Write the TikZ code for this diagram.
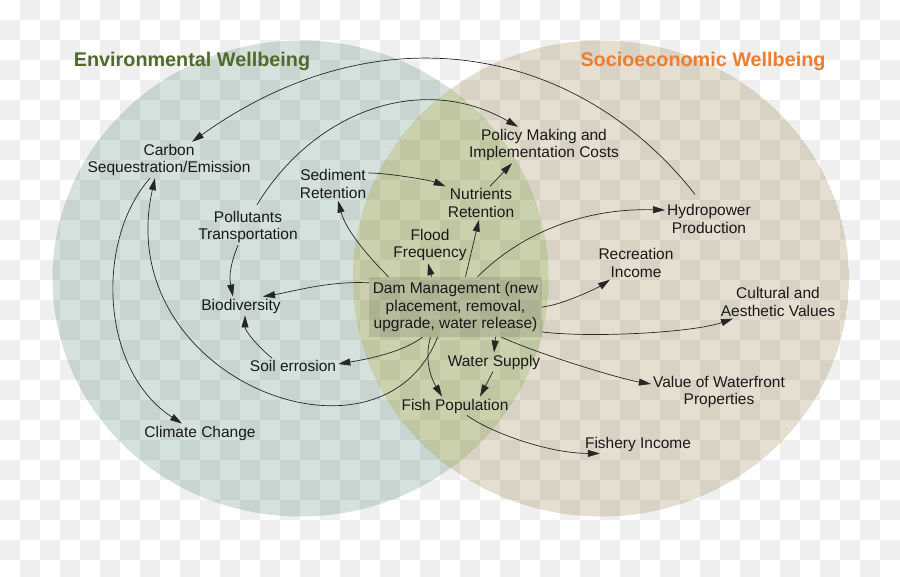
\documentclass[tikz,border=0pt]{standalone}
\usepackage{fontspec}
\setmainfont{Liberation Sans}
\usepackage{tikz}
\usetikzlibrary{arrows.meta}
\definecolor{checkgray}{HTML}{EFEFEF}
\definecolor{envfill}{RGB}{83,135,115}
\definecolor{socfill}{RGB}{147,127,67}
\definecolor{bothfill}{RGB}{106,124,21}
\definecolor{envgreen}{HTML}{4F6A2B}
\definecolor{socorange}{HTML}{ED7D31}
\definecolor{linkgray}{HTML}{262626}
\tikzset{
  venntext/.style={font=\fontsize{15.5}{17.5}\selectfont, align=center, inner sep=2pt, text=black!90},
  venntitle/.style={font=\fontsize{19.8}{22}\selectfont\bfseries, inner sep=0pt},
  vennarrow/.style={-{Triangle[length=12pt,width=7pt]}, line width=0.7pt, draw=linkgray},
  damstyle/.style={venntext, fill=black, fill opacity=0.1, text opacity=1, minimum width=173pt, minimum height=60pt}
}

\begin{document}
\begin{tikzpicture}[x=1pt, y=1pt]
  \useasboundingbox (0,0) rectangle (900,-577);
  \clip (0,0) rectangle (900,-577);

  % checkered backdrop
  \foreach \i in {0,...,44} {
    \foreach \j in {0,...,28} {
      \pgfmathtruncatemacro\odd{mod(\i+\j,2)}
      \ifnum\odd=1 \fill[checkgray] (20*\i,-20*\j) rectangle ++(20,-20); \fi
    }
  }

  % the two circles
  \coordinate (envc) at (300.5,-278.5);
  \coordinate (socc) at (601,-278.5);
  \begin{scope}
    \clip (envc) ellipse [x radius=248, y radius=238];
    \fill[envfill, fill opacity=0.25, even odd rule] (envc) ellipse [x radius=248, y radius=238] (socc) ellipse [x radius=248, y radius=238];
    \fill[bothfill, fill opacity=0.35] (socc) ellipse [x radius=248, y radius=238];
  \end{scope}
  \begin{scope}
    \clip (socc) ellipse [x radius=248, y radius=238];
    \fill[socfill, fill opacity=0.25, even odd rule] (envc) ellipse [x radius=248, y radius=238] (socc) ellipse [x radius=248, y radius=238];
  \end{scope}

  \node[venntitle, text=envgreen] (envtitle) at (192,-61) {Environmental Wellbeing};
  \node[venntitle, text=socorange] (soctitle) at (703,-61) {Socioeconomic Wellbeing};

  % factors
  \node[damstyle] (dam) at (455.5,-307) {Dam Management (new\\placement, removal,\\upgrade, water release)};
  \node[venntext] (carbon) at (169,-160) {Carbon\\Sequestration/Emission};
  \node[venntext] (policy) at (544,-145) {Policy Making and\\Implementation Costs};
  \node[venntext] (sediment) at (333,-184) {Sediment\\Retention};
  \node[venntext] (nutrients) at (481,-203) {Nutrients\\Retention};
  \node[venntext] (flood) at (430,-245) {Flood\\Frequency};
  \node[venntext] (pollutants) at (248,-227) {Pollutants\\Transportation};
  \node[venntext] (hydro) at (709,-219) {Hydropower\\Production};
  \node[venntext] (recreation) at (636,-263) {Recreation\\Income};
  \node[venntext] (biodiv) at (241,-306) {Biodiversity};
  \node[venntext] (cultural) at (778,-302) {Cultural and\\Aesthetic Values};
  \node[venntext] (soil) at (293,-366) {Soil errosion};
  \node[venntext] (water) at (494,-362) {Water Supply};
  \node[venntext] (waterfront) at (719,-392) {Value of Waterfront\\Properties};
  \node[venntext] (fish) at (455,-406) {Fish Population};
  \node[venntext] (fishery) at (638,-444) {Fishery Income};
  \node[venntext] (climate) at (200,-433) {Climate Change};

  % links
  \draw[vennarrow] ([xshift=-14pt,yshift=8pt]hydro.north) .. controls +(-118,150) and +(186,133) .. ([xshift=23pt]carbon.north);
  \draw[vennarrow] ([xshift=9pt,yshift=4pt]pollutants.north) .. controls +(57,94) and +(-96,55) .. ([xshift=-26pt]policy.north);
  \draw[vennarrow] ([xshift=-10pt]pollutants.south) .. controls +(-8,-20) and +(-4,20) .. ([xshift=-8pt]biodiv.north);
  \draw[vennarrow] ([yshift=-6pt]dam.north west) .. controls +(-40,2) and +(30,5) .. ([xshift=22pt]biodiv.north);
  \draw[vennarrow] ([xshift=-21pt]soil.north) .. controls +(-15,12) and +(0,-15) .. ([xshift=4pt]biodiv.south);
  \draw[vennarrow] ([xshift=-33pt]dam.south) .. controls +(-20,-15) and +(30,5) .. ([yshift=2pt]soil.east);
  \draw[vennarrow] ([xshift=-18pt]dam.south) .. controls +(-57,-146) and +(-45,-200) .. ([xshift=-14pt]carbon.south);
  \draw[vennarrow] ([xshift=-19pt]carbon.south) .. controls +(-55,-62) and +(-82,53) .. ([xshift=-18pt]climate.north);
  \draw[vennarrow] ([xshift=-67pt]dam.north) .. controls +(-20,20) and +(8,-30) .. ([xshift=5pt]sediment.south);
  \draw[vennarrow] ([yshift=11pt]sediment.east) .. controls +(20,0) and +(-15,6) .. (nutrients.north west);
  \draw[vennarrow] ([xshift=-24pt]dam.north) -- ([xshift=-2pt]flood.south);
  \draw[vennarrow] ([xshift=10pt]dam.north) -- ([xshift=-2pt]nutrients.south);
  \draw[vennarrow] ([xshift=9pt]nutrients.north) -- ([xshift=-32pt]policy.south);
  \draw[vennarrow] ([xshift=22pt]dam.north) .. controls +(42,42) and +(-84,2) .. ([yshift=9pt]hydro.west);
  \draw[vennarrow] (dam.east) .. controls +(20,2) and +(-12,-8) .. ([xshift=-26pt]recreation.south);
  \draw[vennarrow] ([yshift=-25pt]dam.east) .. controls +(50,-6) and +(-40,-14) .. ([xshift=-45pt]cultural.south);
  \draw[vennarrow] ([xshift=46pt]dam.south) .. controls +(40,-18) and +(-30,5) .. ([yshift=8pt]waterfront.west);
  \draw[vennarrow] ([xshift=40pt]dam.south) -- (water.north);
  \draw[vennarrow] ([xshift=-1pt]water.south) -- ([xshift=25pt]fish.north);
  \draw[vennarrow] ([xshift=-25pt]dam.south) .. controls +(-6,-20) and +(-12,20) .. ([xshift=-13pt]fish.north);
  \draw[vennarrow] ([xshift=12pt]fish.south) .. controls +(25,-18) and +(-50,0) .. ([xshift=17pt]fishery.south west);
\end{tikzpicture}
\end{document}
